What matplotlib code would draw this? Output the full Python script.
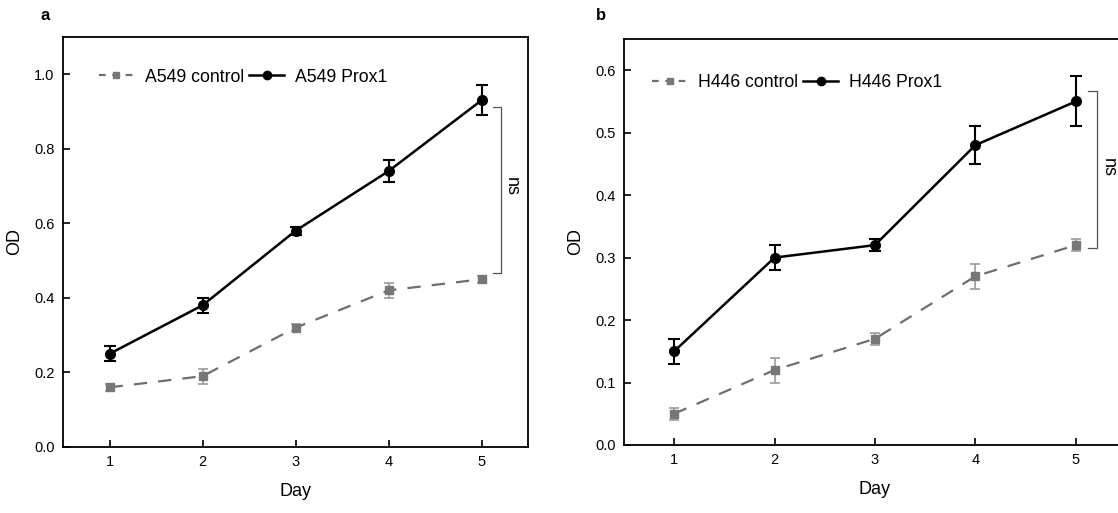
import matplotlib
matplotlib.use('Agg')
import matplotlib.pyplot as plt
from matplotlib.lines import Line2D

plt.rcParams['font.family'] = ['Liberation Sans', 'DejaVu Sans']

days = [1, 2, 3, 4, 5]

# panel a
a549_control = [0.16, 0.19, 0.32, 0.42, 0.45]
a549_control_err = [0.01, 0.02, 0.01, 0.02, 0.01]
a549_prox1 = [0.25, 0.38, 0.58, 0.74, 0.93]
a549_prox1_err = [0.02, 0.02, 0.01, 0.03, 0.04]

# panel b
h446_control = [0.05, 0.12, 0.17, 0.27, 0.32]
h446_control_err = [0.01, 0.02, 0.01, 0.02, 0.01]
h446_prox1 = [0.15, 0.30, 0.32, 0.48, 0.55]
h446_prox1_err = [0.02, 0.02, 0.01, 0.03, 0.04]

GRAY = '#6e6e6e'
GRAY_ERR = '#9a9a9a'
DASH = (0, (6, 5))


def draw_panel(ax, ctrl, ctrl_err, prox, prox_err, name, ylim, yticks,
               bracket, ns_y, leg_xy):
    ax.errorbar(days, ctrl, yerr=ctrl_err, color=GRAY, ecolor=GRAY_ERR,
                linestyle=DASH, linewidth=1.6, marker='s', markersize=6,
                markerfacecolor='#777777', markeredgecolor='#777777',
                capsize=3.5, elinewidth=1.2, capthick=1.2)
    ax.errorbar(days, prox, yerr=prox_err, color='black', linewidth=1.8,
                marker='o', markersize=7, capsize=4, elinewidth=1.5, capthick=1.5)

    # ns bracket
    y0, y1 = bracket
    ax.plot([5.12, 5.21, 5.21, 5.12], [y1, y1, y0, y0], color='#555555', lw=0.9)
    ax.text(5.32, ns_y, 'ns', rotation=-90, ha='center', va='center', fontsize=13)

    ax.set_xlim(0.5, 5.5)
    ax.set_ylim(*ylim)
    ax.set_xticks(days)
    ax.set_yticks(yticks)
    ax.set_yticklabels([f'{v:.1f}' for v in yticks])
    ax.tick_params(direction='in', length=5, width=1.2, labelsize=10.5, pad=6)
    for sp in ax.spines.values():
        sp.set_linewidth(1.3)
    ax.set_xlabel('Day', fontsize=13, labelpad=10)
    ax.set_ylabel('OD', fontsize=13, labelpad=8)

    handles = [
        Line2D([], [], color=GRAY, linestyle=(0, (3, 3)), linewidth=1.6, marker='s',
               markersize=5, markerfacecolor='#777777', markeredgecolor='#777777'),
        Line2D([], [], color='black', linewidth=1.8, marker='o', markersize=6),
    ]
    ax.legend(handles, [f'{name} control', f'{name} Prox1'],
              loc='center left', bbox_to_anchor=leg_xy, ncol=2, frameon=False,
              fontsize=12.7, handlelength=2.0, handletextpad=0.6, columnspacing=0.3,
              borderpad=0, borderaxespad=0)


fig = plt.figure(figsize=(11.18, 5.13), dpi=100)
ax_a = fig.add_axes([0.0564, 0.1287, 0.4159, 0.7993])
ax_b = fig.add_axes([0.5581, 0.1326, 0.4490, 0.7914])

draw_panel(ax_a, a549_control, a549_control_err, a549_prox1, a549_prox1_err,
           'A549', (0, 1.1), [0.0, 0.2, 0.4, 0.6, 0.8, 1.0],
           (0.468, 0.911), 0.70, (0.077, 0.902))
draw_panel(ax_b, h446_control, h446_control_err, h446_prox1, h446_prox1_err,
           'H446', (0, 0.65), [0.0, 0.1, 0.2, 0.3, 0.4, 0.5, 0.6],
           (0.315, 0.566), 0.445, (0.056, 0.892))

fig.text(0.036, 0.97, 'a', fontsize=12, fontweight='bold', va='center')
fig.text(0.533, 0.97, 'b', fontsize=12, fontweight='bold', va='center')

fig.savefig('out.png', dpi=100)
